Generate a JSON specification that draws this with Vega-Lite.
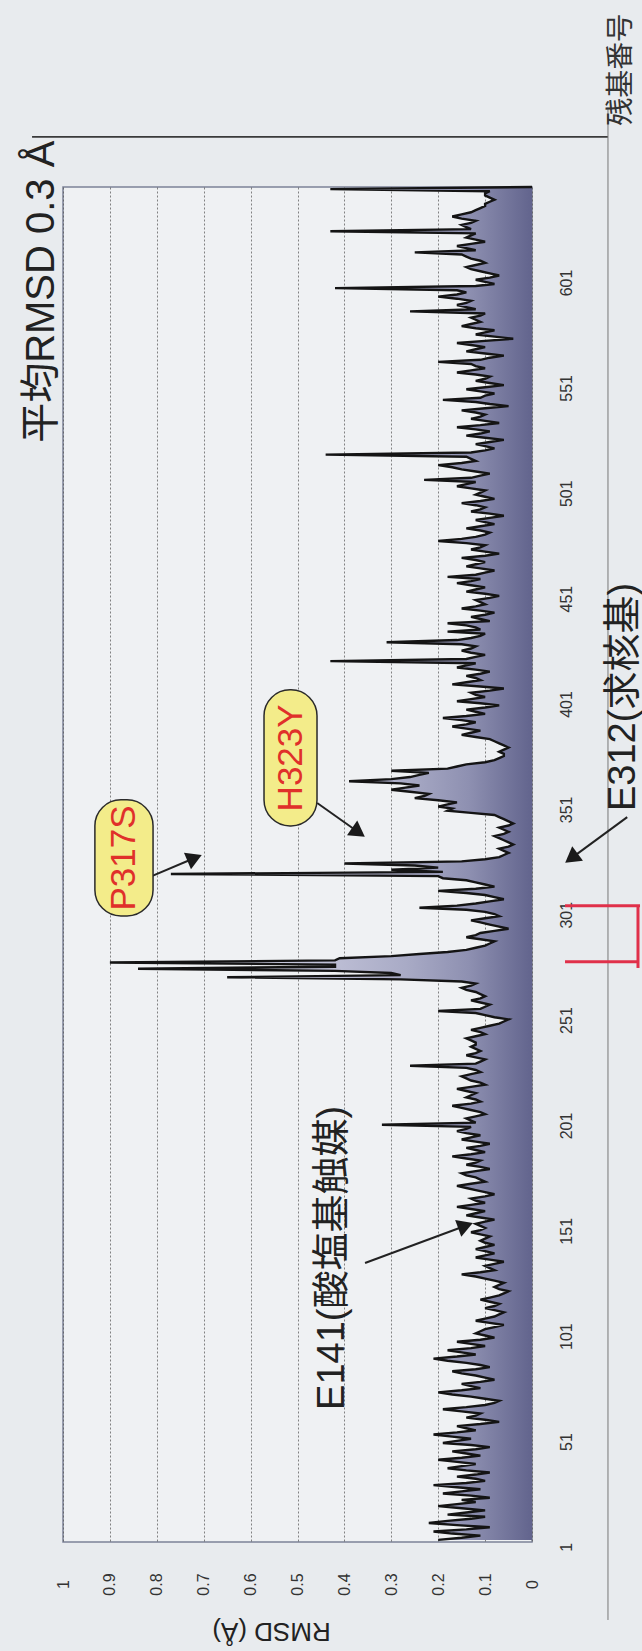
{
"$schema":"https://vega.github.io/schema/vega-lite/v6.json",
"width":469,"height":1355,
"autosize":"none",
"padding":{"left":63,"top":187,"right":110,"bottom":109},
"background":"#e8ebee",
"config":{"view":{"fill":"#eff1f3","stroke":"#7c8298","strokeWidth":1.5},"font":"Liberation Sans"},
"datasets":{
"rmsd":[
{"r":1,"v":0.2},{"r":2,"v":0.15},{"r":3,"v":0.11},{"r":4,"v":0.17},{"r":5,"v":0.21},{"r":6,"v":0.14},{"r":7,"v":0.09},{"r":8,"v":0.16},{"r":9,"v":0.22},{"r":10,"v":0.18},
{"r":11,"v":0.13},{"r":12,"v":0.1},{"r":13,"v":0.18},{"r":14,"v":0.14},{"r":15,"v":0.1},{"r":16,"v":0.15},{"r":17,"v":0.2},{"r":18,"v":0.16},{"r":19,"v":0.12},{"r":20,"v":0.15},
{"r":21,"v":0.09},{"r":22,"v":0.13},{"r":23,"v":0.19},{"r":24,"v":0.15},{"r":25,"v":0.11},{"r":26,"v":0.16},{"r":27,"v":0.21},{"r":28,"v":0.14},{"r":29,"v":0.1},{"r":30,"v":0.12},
{"r":31,"v":0.16},{"r":32,"v":0.12},{"r":33,"v":0.09},{"r":34,"v":0.14},{"r":35,"v":0.18},{"r":36,"v":0.15},{"r":37,"v":0.12},{"r":38,"v":0.16},{"r":39,"v":0.2},{"r":40,"v":0.15},
{"r":41,"v":0.11},{"r":42,"v":0.14},{"r":43,"v":0.17},{"r":44,"v":0.12},{"r":45,"v":0.09},{"r":46,"v":0.13},{"r":47,"v":0.19},{"r":48,"v":0.16},{"r":49,"v":0.13},{"r":50,"v":0.17},
{"r":51,"v":0.21},{"r":52,"v":0.16},{"r":53,"v":0.12},{"r":54,"v":0.14},{"r":55,"v":0.16},{"r":56,"v":0.11},{"r":57,"v":0.07},{"r":58,"v":0.1},{"r":59,"v":0.14},{"r":60,"v":0.12},
{"r":61,"v":0.11},{"r":62,"v":0.15},{"r":63,"v":0.19},{"r":64,"v":0.14},{"r":65,"v":0.1},{"r":66,"v":0.08},{"r":67,"v":0.07},{"r":68,"v":0.1},{"r":69,"v":0.13},{"r":70,"v":0.17},
{"r":71,"v":0.2},{"r":72,"v":0.15},{"r":73,"v":0.11},{"r":74,"v":0.13},{"r":75,"v":0.15},{"r":76,"v":0.11},{"r":77,"v":0.08},{"r":78,"v":0.1},{"r":79,"v":0.12},{"r":80,"v":0.15},
{"r":81,"v":0.17},{"r":82,"v":0.12},{"r":83,"v":0.09},{"r":84,"v":0.11},{"r":85,"v":0.14},{"r":86,"v":0.18},{"r":87,"v":0.21},{"r":88,"v":0.16},{"r":89,"v":0.12},{"r":90,"v":0.15},
{"r":91,"v":0.18},{"r":92,"v":0.13},{"r":93,"v":0.1},{"r":94,"v":0.13},{"r":95,"v":0.16},{"r":96,"v":0.11},{"r":97,"v":0.08},{"r":98,"v":0.1},{"r":99,"v":0.12},{"r":100,"v":0.11},
{"r":101,"v":0.1},{"r":102,"v":0.08},{"r":103,"v":0.06},{"r":104,"v":0.09},{"r":105,"v":0.12},{"r":106,"v":0.1},{"r":107,"v":0.08},{"r":108,"v":0.07},{"r":109,"v":0.06},{"r":110,"v":0.08},
{"r":111,"v":0.1},{"r":112,"v":0.08},{"r":113,"v":0.07},{"r":114,"v":0.09},{"r":115,"v":0.11},{"r":116,"v":0.09},{"r":117,"v":0.07},{"r":118,"v":0.06},{"r":119,"v":0.05},{"r":120,"v":0.07},
{"r":121,"v":0.08},{"r":122,"v":0.07},{"r":123,"v":0.06},{"r":124,"v":0.08},{"r":125,"v":0.1},{"r":126,"v":0.12},{"r":127,"v":0.15},{"r":128,"v":0.11},{"r":129,"v":0.08},{"r":130,"v":0.09},
{"r":131,"v":0.1},{"r":132,"v":0.08},{"r":133,"v":0.06},{"r":134,"v":0.09},{"r":135,"v":0.12},{"r":136,"v":0.1},{"r":137,"v":0.08},{"r":138,"v":0.1},{"r":139,"v":0.12},{"r":140,"v":0.1},
{"r":141,"v":0.08},{"r":142,"v":0.1},{"r":143,"v":0.11},{"r":144,"v":0.1},{"r":145,"v":0.09},{"r":146,"v":0.11},{"r":147,"v":0.13},{"r":148,"v":0.11},{"r":149,"v":0.1},{"r":150,"v":0.11},
{"r":151,"v":0.12},{"r":152,"v":0.1},{"r":153,"v":0.08},{"r":154,"v":0.11},{"r":155,"v":0.14},{"r":156,"v":0.12},{"r":157,"v":0.1},{"r":158,"v":0.13},{"r":159,"v":0.16},{"r":160,"v":0.13},
{"r":161,"v":0.1},{"r":162,"v":0.12},{"r":163,"v":0.13},{"r":164,"v":0.1},{"r":165,"v":0.08},{"r":166,"v":0.1},{"r":167,"v":0.12},{"r":168,"v":0.14},{"r":169,"v":0.16},{"r":170,"v":0.13},
{"r":171,"v":0.1},{"r":172,"v":0.11},{"r":173,"v":0.12},{"r":174,"v":0.14},{"r":175,"v":0.15},{"r":176,"v":0.12},{"r":177,"v":0.09},{"r":178,"v":0.11},{"r":179,"v":0.14},{"r":180,"v":0.12},
{"r":181,"v":0.11},{"r":182,"v":0.14},{"r":183,"v":0.17},{"r":184,"v":0.13},{"r":185,"v":0.1},{"r":186,"v":0.12},{"r":187,"v":0.14},{"r":188,"v":0.11},{"r":189,"v":0.09},{"r":190,"v":0.12},
{"r":191,"v":0.15},{"r":192,"v":0.13},{"r":193,"v":0.11},{"r":194,"v":0.14},{"r":195,"v":0.16},{"r":196,"v":0.14},{"r":197,"v":0.13},{"r":198,"v":0.32},{"r":199,"v":0.12},{"r":200,"v":0.13},
{"r":201,"v":0.14},{"r":202,"v":0.12},{"r":203,"v":0.1},{"r":204,"v":0.11},{"r":205,"v":0.13},{"r":206,"v":0.15},{"r":207,"v":0.17},{"r":208,"v":0.13},{"r":209,"v":0.11},{"r":210,"v":0.12},
{"r":211,"v":0.14},{"r":212,"v":0.13},{"r":213,"v":0.12},{"r":214,"v":0.14},{"r":215,"v":0.16},{"r":216,"v":0.13},{"r":217,"v":0.1},{"r":218,"v":0.11},{"r":219,"v":0.13},{"r":220,"v":0.14},
{"r":221,"v":0.15},{"r":222,"v":0.13},{"r":223,"v":0.11},{"r":224,"v":0.12},{"r":225,"v":0.14},{"r":226,"v":0.26},{"r":227,"v":0.12},{"r":228,"v":0.11},{"r":229,"v":0.1},{"r":230,"v":0.12},
{"r":231,"v":0.14},{"r":232,"v":0.12},{"r":233,"v":0.11},{"r":234,"v":0.12},{"r":235,"v":0.13},{"r":236,"v":0.12},{"r":237,"v":0.12},{"r":238,"v":0.13},{"r":239,"v":0.14},{"r":240,"v":0.12},
{"r":241,"v":0.1},{"r":242,"v":0.11},{"r":243,"v":0.13},{"r":244,"v":0.11},{"r":245,"v":0.09},{"r":246,"v":0.07},{"r":247,"v":0.06},{"r":248,"v":0.05},{"r":249,"v":0.08},{"r":250,"v":0.1},
{"r":251,"v":0.12},{"r":252,"v":0.2},{"r":253,"v":0.11},{"r":254,"v":0.1},{"r":255,"v":0.09},{"r":256,"v":0.11},{"r":257,"v":0.13},{"r":258,"v":0.11},{"r":259,"v":0.1},{"r":260,"v":0.11},
{"r":261,"v":0.12},{"r":262,"v":0.14},{"r":263,"v":0.15},{"r":264,"v":0.13},{"r":265,"v":0.12},{"r":266,"v":0.15},{"r":267,"v":0.28},{"r":268,"v":0.65},{"r":269,"v":0.28},{"r":270,"v":0.3},
{"r":271,"v":0.42},{"r":272,"v":0.84},{"r":273,"v":0.42},{"r":274,"v":0.42},{"r":275,"v":0.9},{"r":276,"v":0.42},{"r":277,"v":0.41},{"r":278,"v":0.3},{"r":279,"v":0.24},{"r":280,"v":0.18},
{"r":281,"v":0.14},{"r":282,"v":0.12},{"r":283,"v":0.1},{"r":284,"v":0.09},{"r":285,"v":0.08},{"r":286,"v":0.11},{"r":287,"v":0.14},{"r":288,"v":0.12},{"r":289,"v":0.11},{"r":290,"v":0.08},
{"r":291,"v":0.05},{"r":292,"v":0.07},{"r":293,"v":0.09},{"r":294,"v":0.11},{"r":295,"v":0.13},{"r":296,"v":0.1},{"r":297,"v":0.07},{"r":298,"v":0.08},{"r":299,"v":0.1},{"r":300,"v":0.14},
{"r":301,"v":0.24},{"r":302,"v":0.16},{"r":303,"v":0.12},{"r":304,"v":0.09},{"r":305,"v":0.06},{"r":306,"v":0.08},{"r":307,"v":0.1},{"r":308,"v":0.14},{"r":309,"v":0.2},{"r":310,"v":0.12},
{"r":311,"v":0.08},{"r":312,"v":0.1},{"r":313,"v":0.12},{"r":314,"v":0.14},{"r":315,"v":0.19},{"r":316,"v":0.2},{"r":317,"v":0.77},{"r":318,"v":0.19},{"r":319,"v":0.3},{"r":320,"v":0.2},
{"r":321,"v":0.25},{"r":322,"v":0.4},{"r":323,"v":0.15},{"r":324,"v":0.1},{"r":325,"v":0.07},{"r":326,"v":0.06},{"r":327,"v":0.05},{"r":328,"v":0.06},{"r":329,"v":0.07},{"r":330,"v":0.05},
{"r":331,"v":0.04},{"r":332,"v":0.05},{"r":333,"v":0.06},{"r":334,"v":0.07},{"r":335,"v":0.08},{"r":336,"v":0.06},{"r":337,"v":0.05},{"r":338,"v":0.06},{"r":339,"v":0.07},{"r":340,"v":0.05},
{"r":341,"v":0.04},{"r":342,"v":0.05},{"r":343,"v":0.06},{"r":344,"v":0.07},{"r":345,"v":0.08},{"r":346,"v":0.13},{"r":347,"v":0.18},{"r":348,"v":0.17},{"r":349,"v":0.2},{"r":350,"v":0.18},
{"r":351,"v":0.16},{"r":352,"v":0.2},{"r":353,"v":0.25},{"r":354,"v":0.23},{"r":355,"v":0.22},{"r":356,"v":0.26},{"r":357,"v":0.3},{"r":358,"v":0.27},{"r":359,"v":0.24},{"r":360,"v":0.28},
{"r":361,"v":0.39},{"r":362,"v":0.3},{"r":363,"v":0.26},{"r":364,"v":0.24},{"r":365,"v":0.22},{"r":366,"v":0.3},{"r":367,"v":0.18},{"r":368,"v":0.16},{"r":369,"v":0.14},{"r":370,"v":0.1},
{"r":371,"v":0.08},{"r":372,"v":0.07},{"r":373,"v":0.06},{"r":374,"v":0.06},{"r":375,"v":0.07},{"r":376,"v":0.06},{"r":377,"v":0.05},{"r":378,"v":0.06},{"r":379,"v":0.07},{"r":380,"v":0.08},
{"r":381,"v":0.09},{"r":382,"v":0.12},{"r":383,"v":0.15},{"r":384,"v":0.13},{"r":385,"v":0.11},{"r":386,"v":0.14},{"r":387,"v":0.17},{"r":388,"v":0.14},{"r":389,"v":0.12},{"r":390,"v":0.15},
{"r":391,"v":0.19},{"r":392,"v":0.14},{"r":393,"v":0.1},{"r":394,"v":0.12},{"r":395,"v":0.14},{"r":396,"v":0.1},{"r":397,"v":0.07},{"r":398,"v":0.11},{"r":399,"v":0.16},{"r":400,"v":0.13},
{"r":401,"v":0.1},{"r":402,"v":0.12},{"r":403,"v":0.13},{"r":404,"v":0.09},{"r":405,"v":0.06},{"r":406,"v":0.11},{"r":407,"v":0.17},{"r":408,"v":0.14},{"r":409,"v":0.11},{"r":410,"v":0.12},
{"r":411,"v":0.14},{"r":412,"v":0.11},{"r":413,"v":0.09},{"r":414,"v":0.12},{"r":415,"v":0.16},{"r":416,"v":0.14},{"r":417,"v":0.12},{"r":418,"v":0.43},{"r":419,"v":0.14},{"r":420,"v":0.12},
{"r":421,"v":0.1},{"r":422,"v":0.13},{"r":423,"v":0.15},{"r":424,"v":0.13},{"r":425,"v":0.12},{"r":426,"v":0.15},{"r":427,"v":0.31},{"r":428,"v":0.16},{"r":429,"v":0.13},{"r":430,"v":0.11},
{"r":431,"v":0.1},{"r":432,"v":0.18},{"r":433,"v":0.11},{"r":434,"v":0.12},{"r":435,"v":0.14},{"r":436,"v":0.18},{"r":437,"v":0.09},{"r":438,"v":0.11},{"r":439,"v":0.13},{"r":440,"v":0.1},
{"r":441,"v":0.08},{"r":442,"v":0.11},{"r":443,"v":0.15},{"r":444,"v":0.12},{"r":445,"v":0.1},{"r":446,"v":0.11},{"r":447,"v":0.12},{"r":448,"v":0.09},{"r":449,"v":0.07},{"r":450,"v":0.1},
{"r":451,"v":0.14},{"r":452,"v":0.12},{"r":453,"v":0.1},{"r":454,"v":0.13},{"r":455,"v":0.16},{"r":456,"v":0.13},{"r":457,"v":0.11},{"r":458,"v":0.18},{"r":459,"v":0.12},{"r":460,"v":0.1},
{"r":461,"v":0.08},{"r":462,"v":0.11},{"r":463,"v":0.14},{"r":464,"v":0.12},{"r":465,"v":0.1},{"r":466,"v":0.12},{"r":467,"v":0.15},{"r":468,"v":0.1},{"r":469,"v":0.07},{"r":470,"v":0.1},
{"r":471,"v":0.13},{"r":472,"v":0.11},{"r":473,"v":0.1},{"r":474,"v":0.14},{"r":475,"v":0.2},{"r":476,"v":0.15},{"r":477,"v":0.12},{"r":478,"v":0.1},{"r":479,"v":0.09},{"r":480,"v":0.11},
{"r":481,"v":0.14},{"r":482,"v":0.11},{"r":483,"v":0.08},{"r":484,"v":0.1},{"r":485,"v":0.12},{"r":486,"v":0.09},{"r":487,"v":0.06},{"r":488,"v":0.09},{"r":489,"v":0.13},{"r":490,"v":0.11},
{"r":491,"v":0.1},{"r":492,"v":0.12},{"r":493,"v":0.15},{"r":494,"v":0.11},{"r":495,"v":0.08},{"r":496,"v":0.1},{"r":497,"v":0.12},{"r":498,"v":0.11},{"r":499,"v":0.1},{"r":500,"v":0.13},
{"r":501,"v":0.16},{"r":502,"v":0.14},{"r":503,"v":0.12},{"r":504,"v":0.23},{"r":505,"v":0.13},{"r":506,"v":0.11},{"r":507,"v":0.09},{"r":508,"v":0.12},{"r":509,"v":0.15},{"r":510,"v":0.17},
{"r":511,"v":0.2},{"r":512,"v":0.15},{"r":513,"v":0.12},{"r":514,"v":0.13},{"r":515,"v":0.14},{"r":516,"v":0.44},{"r":517,"v":0.13},{"r":518,"v":0.1},{"r":519,"v":0.08},{"r":520,"v":0.1},
{"r":521,"v":0.12},{"r":522,"v":0.09},{"r":523,"v":0.06},{"r":524,"v":0.1},{"r":525,"v":0.14},{"r":526,"v":0.11},{"r":527,"v":0.09},{"r":528,"v":0.12},{"r":529,"v":0.16},{"r":530,"v":0.11},
{"r":531,"v":0.07},{"r":532,"v":0.1},{"r":533,"v":0.13},{"r":534,"v":0.11},{"r":535,"v":0.1},{"r":536,"v":0.12},{"r":537,"v":0.15},{"r":538,"v":0.1},{"r":539,"v":0.05},{"r":540,"v":0.09},
{"r":541,"v":0.12},{"r":542,"v":0.19},{"r":543,"v":0.11},{"r":544,"v":0.1},{"r":545,"v":0.08},{"r":546,"v":0.11},{"r":547,"v":0.14},{"r":548,"v":0.1},{"r":549,"v":0.06},{"r":550,"v":0.09},
{"r":551,"v":0.12},{"r":552,"v":0.1},{"r":553,"v":0.09},{"r":554,"v":0.12},{"r":555,"v":0.16},{"r":556,"v":0.13},{"r":557,"v":0.1},{"r":558,"v":0.12},{"r":559,"v":0.13},{"r":560,"v":0.2},
{"r":561,"v":0.11},{"r":562,"v":0.09},{"r":563,"v":0.06},{"r":564,"v":0.1},{"r":565,"v":0.14},{"r":566,"v":0.12},{"r":567,"v":0.1},{"r":568,"v":0.13},{"r":569,"v":0.16},{"r":570,"v":0.1},
{"r":571,"v":0.04},{"r":572,"v":0.08},{"r":573,"v":0.12},{"r":574,"v":0.1},{"r":575,"v":0.08},{"r":576,"v":0.12},{"r":577,"v":0.15},{"r":578,"v":0.13},{"r":579,"v":0.11},{"r":580,"v":0.12},
{"r":581,"v":0.13},{"r":582,"v":0.11},{"r":583,"v":0.1},{"r":584,"v":0.26},{"r":585,"v":0.12},{"r":586,"v":0.14},{"r":587,"v":0.16},{"r":588,"v":0.14},{"r":589,"v":0.13},{"r":590,"v":0.16},
{"r":591,"v":0.2},{"r":592,"v":0.16},{"r":593,"v":0.14},{"r":594,"v":0.16},{"r":595,"v":0.42},{"r":596,"v":0.12},{"r":597,"v":0.08},{"r":598,"v":0.1},{"r":599,"v":0.12},{"r":600,"v":0.09},
{"r":601,"v":0.07},{"r":602,"v":0.09},{"r":603,"v":0.11},{"r":604,"v":0.13},{"r":605,"v":0.14},{"r":606,"v":0.12},{"r":607,"v":0.1},{"r":608,"v":0.11},{"r":609,"v":0.13},{"r":610,"v":0.14},
{"r":611,"v":0.15},{"r":612,"v":0.25},{"r":613,"v":0.12},{"r":614,"v":0.14},{"r":615,"v":0.16},{"r":616,"v":0.13},{"r":617,"v":0.1},{"r":618,"v":0.12},{"r":619,"v":0.14},{"r":620,"v":0.13},
{"r":621,"v":0.12},{"r":622,"v":0.43},{"r":623,"v":0.13},{"r":624,"v":0.14},{"r":625,"v":0.15},{"r":626,"v":0.13},{"r":627,"v":0.12},{"r":628,"v":0.15},{"r":629,"v":0.17},{"r":630,"v":0.15},
{"r":631,"v":0.13},{"r":632,"v":0.12},{"r":633,"v":0.11},{"r":634,"v":0.1},{"r":635,"v":0.1},{"r":636,"v":0.09},{"r":637,"v":0.08},{"r":638,"v":0.09},{"r":639,"v":0.1},{"r":640,"v":0.1},
{"r":641,"v":0.09},{"r":642,"v":0.43},{"r":643,"v":0.0}
],
"lines":[
{"g":"frame","x":1.066,"x2":-0.162,"y":666.8,"y2":666.8},
{"g":"guide","x":-0.162,"x2":-0.162,"y":680.6,"y2":-37},
{"g":"bracket","x":-0.0704,"x2":-0.2303,"y":301.9,"y2":301.9},
{"g":"bracket","x":-0.0704,"x2":-0.226,"y":275.3,"y2":275.3},
{"g":"bracket","x":-0.226,"x2":-0.226,"y":301.9,"y2":272.4},
{"g":"arrow","x":0.8145,"x2":0.7194,"y":315.6,"y2":324.6},
{"g":"arrow","x":0.458,"x2":0.370,"y":350.7,"y2":336.8},
{"g":"arrow","x":0.356,"x2":0.1418,"y":132.4,"y2":150.1},
{"g":"arrow","x":-0.203,"x2":-0.084,"y":344,"y2":324.5}
],
"heads":[
{"a":"P317S","x":0.7194,"y":324.6},
{"a":"H323Y","x":0.370,"y":336.8},
{"a":"E141","x":0.1418,"y":150.1},
{"a":"E312","x":-0.084,"y":324.5}
],
"boxes":[
{"t":"P317S","x":0.932,"x2":0.808,"y":352.2,"y2":297.1,"tx":0.870,"ty":324.6},
{"t":"H323Y","x":0.5714,"x2":0.4584,"y":404.4,"y2":339.8,"tx":0.5149,"ty":372.1}
],
"notes":[
{"k":"big","t":"E141(酸塩基触媒)","x":0.4243,"y":134.8},
{"k":"big","t":"E312(求核基)","x":-0.196,"y":401},
{"k":"title","t":"平均RMSD 0.3 Å","x":1.0448,"y":593.3},
{"k":"small","t":"残基番号","x":-0.192,"y":698.6}
]
},
"layer":[
{"data":{"name":"rmsd"},
 "mark":{"type":"area","orient":"horizontal","color":{"gradient":"linear","x1":0,"y1":0,"x2":1,"y2":0,"stops":[{"offset":0,"color":"#d6d7e5"},{"offset":0.5,"color":"#c0c1d7"},{"offset":0.7,"color":"#a9abc6"},{"offset":0.85,"color":"#8e90b1"},{"offset":1,"color":"#62648d"}]}},
 "encoding":{
  "x":{"field":"v","type":"quantitative","scale":{"domain":[0,1],"reverse":true,"nice":false,"zero":false},
   "axis":{"values":[0,0.1,0.2,0.3,0.4,0.5,0.6,0.7,0.8,0.9,1],"format":"~g","labelAngle":270,"labelAlign":"center","labelBaseline":"middle","labelPadding":42,"tickSize":0,"ticks":false,"domain":false,
    "labelFontSize":16,"labelColor":"#333","labelFont":"Liberation Sans",
    "grid":true,"gridDash":[2,2],"gridColor":"#555","gridWidth":0.8,"gridOpacity":0.9,
    "title":"RMSD (Å)","titleAngle":180,"titleFontSize":26,"titleFontWeight":"normal","titleColor":"#222","titleFont":"Liberation Sans","titleX":208,"titleY":88,"titleAlign":"center","titleBaseline":"middle"}},
  "y":{"field":"r","type":"quantitative","scale":{"domain":[0,643],"nice":false,"zero":false},
   "axis":{"orient":"right","values":[1,51,101,151,201,251,301,351,401,451,501,551,601],"labelAngle":270,"labelAlign":"center","labelBaseline":"middle","labelPadding":34,"labelOffset":7,"tickSize":0,"ticks":false,"domain":false,"grid":false,
    "labelFontSize":16,"labelColor":"#333","labelFont":"Liberation Sans","title":null}}
 }},
{"data":{"name":"rmsd"},
 "mark":{"type":"line","orient":"horizontal","color":"#141414","strokeWidth":2.4},
 "encoding":{
  "x":{"field":"v","type":"quantitative","scale":{"domain":[0,1],"reverse":true,"nice":false,"zero":false}},
  "y":{"field":"r","type":"quantitative","scale":{"domain":[0,643],"nice":false,"zero":false}},
  "order":{"field":"r"}
 }},
{"data":{"name":"lines"},"transform":[{"filter":"datum.g=='frame'"}],
 "mark":{"type":"rule","color":"#3a3a3a","strokeWidth":1.6},
 "encoding":{"x":{"field":"x","type":"quantitative","scale":{"domain":[0,1],"reverse":true,"nice":false,"zero":false}},"x2":{"field":"x2"},
  "y":{"field":"y","type":"quantitative","scale":{"domain":[0,643],"nice":false,"zero":false}},"y2":{"field":"y2"}}},
{"data":{"name":"lines"},"transform":[{"filter":"datum.g=='guide'"}],
 "mark":{"type":"rule","color":"#777","strokeWidth":1},
 "encoding":{"x":{"field":"x","type":"quantitative","scale":{"domain":[0,1],"reverse":true,"nice":false,"zero":false}},"x2":{"field":"x2"},
  "y":{"field":"y","type":"quantitative","scale":{"domain":[0,643],"nice":false,"zero":false}},"y2":{"field":"y2"}}},
{"data":{"name":"lines"},"transform":[{"filter":"datum.g=='bracket'"}],
 "mark":{"type":"rule","color":"#e0304a","strokeWidth":3},
 "encoding":{"x":{"field":"x","type":"quantitative","scale":{"domain":[0,1],"reverse":true,"nice":false,"zero":false}},"x2":{"field":"x2"},
  "y":{"field":"y","type":"quantitative","scale":{"domain":[0,643],"nice":false,"zero":false}},"y2":{"field":"y2"}}},
{"data":{"name":"lines"},"transform":[{"filter":"datum.g=='arrow'"}],
 "mark":{"type":"rule","color":"#222","strokeWidth":2},
 "encoding":{"x":{"field":"x","type":"quantitative","scale":{"domain":[0,1],"reverse":true,"nice":false,"zero":false}},"x2":{"field":"x2"},
  "y":{"field":"y","type":"quantitative","scale":{"domain":[0,643],"nice":false,"zero":false}},"y2":{"field":"y2"}}},
{"data":{"name":"heads"},"transform":[{"filter":"datum.a=='P317S'"}],
 "mark":{"type":"point","shape":"triangle-up","filled":true,"color":"#1a1a1a","size":320,"angle":67,"opacity":1},
 "encoding":{"x":{"field":"x","type":"quantitative","scale":{"domain":[0,1],"reverse":true,"nice":false,"zero":false}},
  "y":{"field":"y","type":"quantitative","scale":{"domain":[0,643],"nice":false,"zero":false}}}},
{"data":{"name":"heads"},"transform":[{"filter":"datum.a=='H323Y'"}],
 "mark":{"type":"point","shape":"triangle-up","filled":true,"color":"#1a1a1a","size":320,"angle":125,"opacity":1},
 "encoding":{"x":{"field":"x","type":"quantitative","scale":{"domain":[0,1],"reverse":true,"nice":false,"zero":false}},
  "y":{"field":"y","type":"quantitative","scale":{"domain":[0,643],"nice":false,"zero":false}}}},
{"data":{"name":"heads"},"transform":[{"filter":"datum.a=='E141'"}],
 "mark":{"type":"point","shape":"triangle-up","filled":true,"color":"#1a1a1a","size":320,"angle":70,"opacity":1},
 "encoding":{"x":{"field":"x","type":"quantitative","scale":{"domain":[0,1],"reverse":true,"nice":false,"zero":false}},
  "y":{"field":"y","type":"quantitative","scale":{"domain":[0,643],"nice":false,"zero":false}}}},
{"data":{"name":"heads"},"transform":[{"filter":"datum.a=='E312'"}],
 "mark":{"type":"point","shape":"triangle-up","filled":true,"color":"#1a1a1a","size":320,"angle":233,"opacity":1},
 "encoding":{"x":{"field":"x","type":"quantitative","scale":{"domain":[0,1],"reverse":true,"nice":false,"zero":false}},
  "y":{"field":"y","type":"quantitative","scale":{"domain":[0,643],"nice":false,"zero":false}}}},
{"data":{"name":"boxes"},
 "mark":{"type":"rect","fill":"#f3ec8a","stroke":"#2a2a2a","strokeWidth":1.5,"cornerRadius":26},
 "encoding":{"x":{"field":"x","type":"quantitative","scale":{"domain":[0,1],"reverse":true,"nice":false,"zero":false}},"x2":{"field":"x2"},
  "y":{"field":"y","type":"quantitative","scale":{"domain":[0,643],"nice":false,"zero":false}},"y2":{"field":"y2"}}},
{"data":{"name":"boxes"},
 "mark":{"type":"text","angle":270,"align":"center","baseline":"middle","fontSize":35,"color":"#e0302a","font":"Liberation Sans"},
 "encoding":{"x":{"field":"tx","type":"quantitative","scale":{"domain":[0,1],"reverse":true,"nice":false,"zero":false}},
  "y":{"field":"ty","type":"quantitative","scale":{"domain":[0,643],"nice":false,"zero":false}},"text":{"field":"t"}}},
{"data":{"name":"notes"},"transform":[{"filter":"datum.k=='big'"}],
 "mark":{"type":"text","angle":270,"align":"center","baseline":"middle","fontSize":38,"color":"#222","font":"Liberation Sans, Noto Sans CJK JP"},
 "encoding":{"x":{"field":"x","type":"quantitative","scale":{"domain":[0,1],"reverse":true,"nice":false,"zero":false}},
  "y":{"field":"y","type":"quantitative","scale":{"domain":[0,643],"nice":false,"zero":false}},"text":{"field":"t"}}},
{"data":{"name":"notes"},"transform":[{"filter":"datum.k=='title'"}],
 "mark":{"type":"text","angle":270,"align":"center","baseline":"middle","fontSize":40,"color":"#222","font":"Liberation Sans, Noto Sans CJK JP"},
 "encoding":{"x":{"field":"x","type":"quantitative","scale":{"domain":[0,1],"reverse":true,"nice":false,"zero":false}},
  "y":{"field":"y","type":"quantitative","scale":{"domain":[0,643],"nice":false,"zero":false}},"text":{"field":"t"}}},
{"data":{"name":"notes"},"transform":[{"filter":"datum.k=='small'"}],
 "mark":{"type":"text","angle":270,"align":"center","baseline":"middle","fontSize":28,"color":"#333","font":"Noto Sans CJK JP"},
 "encoding":{"x":{"field":"x","type":"quantitative","scale":{"domain":[0,1],"reverse":true,"nice":false,"zero":false}},
  "y":{"field":"y","type":"quantitative","scale":{"domain":[0,643],"nice":false,"zero":false}},"text":{"field":"t"}}}
]
}
